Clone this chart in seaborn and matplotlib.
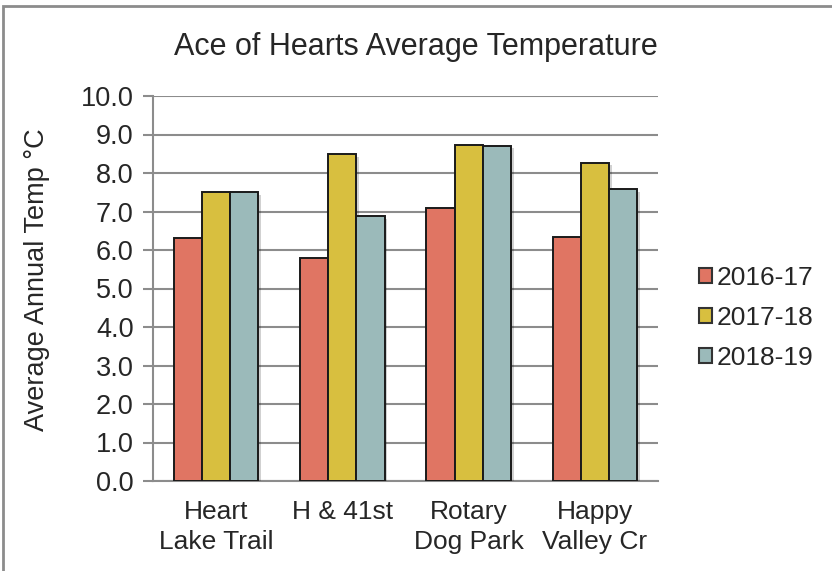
import matplotlib
matplotlib.use("Agg")
import matplotlib.pyplot as plt
import matplotlib.patheffects as pe
from matplotlib.patches import Patch, Rectangle
import pandas as pd
import seaborn as sns

sites = ["Heart\nLake Trail", "H & 41st", "Rotary\nDog Park", "Happy\nValley Cr"]
seasons = ["2016-17", "2017-18", "2018-19"]
temp_2016_17 = [6.32, 5.79, 7.08, 6.35]
temp_2017_18 = [7.50, 8.50, 8.73, 8.27]
temp_2018_19 = [7.51, 6.89, 8.71, 7.58]
colors = ["#E07563", "#D8BF3F", "#9BBABA"]
y_ticks = [0, 1, 2, 3, 4, 5, 6, 7, 8, 9, 10]

df = pd.DataFrame({
    "site": sites * 3,
    "season": [s for s in seasons for _ in sites],
    "temp": temp_2016_17 + temp_2017_18 + temp_2018_19,
})

sns.set_theme(style="white")
plt.rcParams["font.family"] = ["Liberation Sans", "DejaVu Sans"]

fig = plt.figure(figsize=(8.32, 5.71), dpi=100)
ax = fig.add_axes([153 / 832, 1 - 481 / 571, 505 / 832, 385 / 571])

sns.barplot(data=df, x="site", y="temp", hue="season", order=sites,
            hue_order=seasons, palette=colors, saturation=1, width=0.67,
            edgecolor="#1a1a1a", linewidth=1.4, ax=ax, legend=False,
            zorder=3)

for bar in ax.patches:
    bar.set_path_effects([pe.SimplePatchShadow(offset=(2, -2), alpha=0.18,
                                               shadow_rgbFace="#000000"),
                          pe.Normal()])

ax.set_ylim(0, 10)
ax.set_yticks(y_ticks)
ax.set_yticklabels([f"{v:.1f}" for v in y_ticks], fontsize=19.5)
ax.set_xlim(-0.5, len(sites) - 0.5)
ax.tick_params(axis="x", length=0, labelsize=19, pad=14)
ax.tick_params(axis="y", length=7, width=1.5, color="#8c8c8c", direction="out",
               left=True, pad=7)
ax.yaxis.grid(True, color="#8c8c8c", linewidth=1.5, zorder=0)
ax.set_axisbelow(True)

for side in ["top", "right"]:
    ax.spines[side].set_visible(False)
for side in ["left", "bottom"]:
    ax.spines[side].set_color("#8c8c8c")
    ax.spines[side].set_linewidth(1.5)

ax.set_xlabel("")
ax.set_ylabel("Average Annual Temp °C", fontsize=19.5)
ax.yaxis.set_label_coords((50 - 153) / 505, (481 - 280) / 385)
for lbl in ax.get_xticklabels():
    lbl.set_linespacing(1.3)

fig.text(0.5, 1 - 47 / 571, "Ace of Hearts Average Temperature",
         ha="center", va="center", fontsize=22)

handles = [Patch(facecolor=c, edgecolor="#333333", linewidth=1.5) for c in colors]
fig.legend(handles, seasons, loc="center left",
           bbox_to_anchor=(688 / 832, 1 - 318 / 571), frameon=False,
           fontsize=19, handlelength=0.5, handleheight=0.5,
           handletextpad=0.2, labelspacing=0.6, borderaxespad=0)

fig.patches.append(Rectangle((3 / 832, -0.1), 1.2, (1 - 6 / 571) + 0.1,
                             transform=fig.transFigure, fill=False,
                             edgecolor="#8c8c8c", linewidth=2))

fig.savefig("out.png", dpi=100)
